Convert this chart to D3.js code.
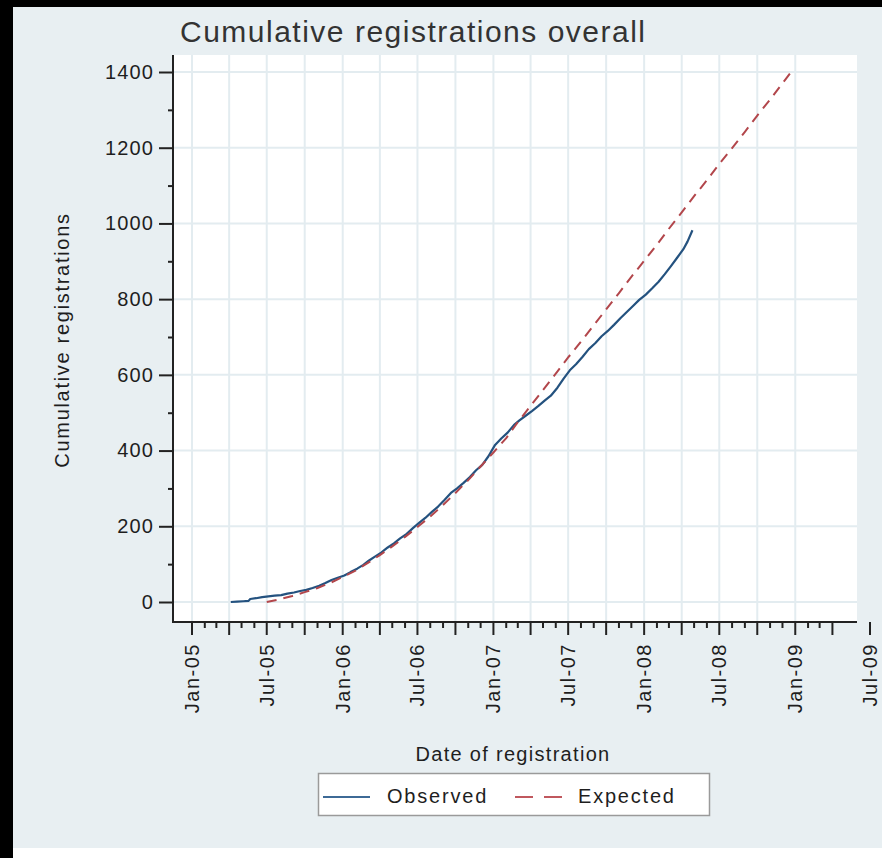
<!DOCTYPE html>
<html><head><meta charset="utf-8">
<script src="https://cdn.jsdelivr.net/npm/d3@7"></script>
<style>
body{margin:0;background:#fff}
svg{display:block}
text{font-family:"Liberation Sans",Arial,Helvetica,sans-serif;fill:#1e1e1e}
</style>
</head><body>
<svg id="chart" width="882" height="858"></svg>
<script>
// ---------------- data ----------------
const titleText = "Cumulative registrations overall";
const yTitle = "Cumulative registrations";
const xTitle = "Date of registration";
const seriesNames = ["Observed", "Expected"];

const observedDates = [
 "2005-04-05","2005-04-20","2005-05-05","2005-05-18","2005-05-22","2005-06-05","2005-06-20","2005-07-05","2005-07-20",
 "2005-08-05","2005-08-20","2005-09-05","2005-09-20","2005-10-05","2005-10-20","2005-11-05","2005-11-20","2005-12-05",
 "2005-12-20","2006-01-05","2006-01-20","2006-02-05","2006-02-20","2006-03-05","2006-03-20","2006-04-05","2006-04-20",
 "2006-05-05","2006-05-20","2006-06-05","2006-06-20","2006-07-05","2006-07-20","2006-08-05","2006-08-20","2006-09-05",
 "2006-09-20","2006-10-05","2006-10-20","2006-11-05","2006-11-20","2006-12-05","2006-12-20","2007-01-05","2007-01-20",
 "2007-02-05","2007-02-20","2007-03-05","2007-03-20","2007-04-05","2007-04-20","2007-05-05","2007-05-20","2007-06-05",
 "2007-06-20","2007-07-05","2007-07-20","2007-08-05","2007-08-20","2007-09-05","2007-09-20","2007-10-05","2007-10-20",
 "2007-11-05","2007-11-20","2007-12-05","2007-12-20","2008-01-05","2008-01-20","2008-02-05","2008-02-20","2008-03-05",
 "2008-03-20","2008-04-05","2008-04-15","2008-04-27"];
const observedValues = [
 0,1,2,3,8,10,13,15,17,
 18,22,25,29,32,37,43,50,58,
 64,70,79,88,98,109,120,131,144,
 155,168,180,195,209,222,238,252,270,
 288,300,314,330,348,362,385,415,432,
 448,468,480,492,505,518,532,545,566,
 590,612,628,648,668,684,702,716,732,
 750,766,782,798,812,828,846,866,886,
 908,932,952,982];

const expectedDates = [
 "2005-07-01","2005-08-01","2005-09-01","2005-10-01","2005-11-01","2005-12-01",
 "2006-01-01","2006-02-01","2006-03-01","2006-04-01","2006-05-01","2006-06-01",
 "2006-07-01","2006-08-01","2006-09-01","2006-10-01","2006-11-01","2006-12-01",
 "2007-01-01","2007-02-01","2007-03-01","2007-04-01","2007-05-01","2007-06-01",
 "2007-07-01","2007-08-01","2007-09-01","2007-10-01","2007-11-01","2007-12-01",
 "2008-01-01","2008-02-01","2008-03-01","2008-04-01","2008-05-01","2008-06-01",
 "2008-07-01","2008-08-01","2008-09-01","2008-10-01","2008-11-01","2008-12-01","2008-12-22"];
const expectedValues = [
 0,7,16,26,37,50,
 66,83,102,124,147,172,
 198,226,256,288,322,358,
 395,433,475,518,560,603,
 646,688,731,773,816,859,
 901,944,986,1029,1072,1114,
 1157,1199,1242,1285,1327,1370,1400];

const yMajorTicks = [0,200,400,600,800,1000,1200,1400];
const yMinorTicks = [100,300,500,700,900,1100,1300];
const xTickLabels = ["Jan-05","Jul-05","Jan-06","Jul-06","Jan-07","Jul-07","Jan-08","Jul-08","Jan-09","Jul-09"];
const xDomain = ["2005-01-01","2009-07-01"];

// ---------------- setup ----------------
const parse = d3.timeParse("%Y-%m-%d");
const W = 882, H = 858;
const plot = {left:173, right:857, top:55, bottom:622};
const colObs = "#24527f", colExp = "#b2464b";
const bg = "#e8eff2", grid = "#e3ecf0";

const svg = d3.select("#chart");
svg.append("rect").attr("width",W).attr("height",H).attr("fill","#fff");
svg.append("rect").attr("x",13).attr("y",7).attr("width",W-13).attr("height",841).attr("fill",bg);
svg.append("rect").attr("x",0).attr("y",0).attr("width",13).attr("height",H).attr("fill","#000");
svg.append("rect").attr("x",0).attr("y",0).attr("width",W).attr("height",7).attr("fill","#000");

const x = d3.scaleTime().domain(xDomain.map(parse)).range([192, 870]);
const y = d3.scaleLinear().domain([0,1400]).range([602, 72]);

// plot area
svg.append("rect").attr("x",plot.left).attr("y",plot.top)
  .attr("width",plot.right-plot.left).attr("height",plot.bottom-plot.top).attr("fill","#fff");

// gridlines
const quarters = d3.timeMonth.every(3).range(parse("2005-01-01"), parse("2009-01-02"));
svg.append("g").selectAll("line").data(quarters).join("line")
  .attr("x1",d=>x(d)).attr("x2",d=>x(d)).attr("y1",plot.top).attr("y2",plot.bottom)
  .attr("stroke",grid).attr("stroke-width",2);
svg.append("g").selectAll("line").data(yMajorTicks).join("line")
  .attr("x1",plot.left).attr("x2",plot.right).attr("y1",d=>y(d)).attr("y2",d=>y(d))
  .attr("stroke",grid).attr("stroke-width",2);

// title
svg.append("text").attr("x",180).attr("y",42).text(titleText)
  .style("font-size","30px").style("letter-spacing","1.5px").style("fill","#333");

// y axis
const yAxisG = svg.append("g").attr("transform",`translate(${plot.left},0)`);
yAxisG.call(d3.axisLeft(y).tickValues(yMajorTicks).tickSize(14).tickPadding(5).tickFormat(d3.format("d")));
yAxisG.append("g").call(d3.axisLeft(y).tickValues(yMinorTicks).tickSize(5).tickFormat(""));
yAxisG.selectAll(".domain").remove();
yAxisG.selectAll("line").attr("stroke","#222").attr("stroke-width",2);
yAxisG.selectAll("text").style("font-size","20px").style("letter-spacing","1.1px").attr("fill","#1e1e1e");
svg.append("line").attr("x1",plot.left).attr("x2",plot.left).attr("y1",plot.top).attr("y2",plot.bottom+1)
  .attr("stroke","#222").attr("stroke-width",2);

// x axis
const months = d3.timeMonth.range(parse("2005-01-01"), parse("2009-04-02"));
const allTicks = months.concat([parse("2009-07-01")]);
const xg = svg.append("g");
xg.selectAll("line").data(allTicks).join("line")
  .attr("x1",d=>x(d)).attr("x2",d=>x(d)).attr("y1",plot.bottom)
  .attr("y2",d=> plot.bottom + (d.getMonth()%3===0 ? 13 : 6))
  .attr("stroke","#222").attr("stroke-width",2);
svg.append("line").attr("x1",plot.left-1).attr("x2",plot.right).attr("y1",plot.bottom).attr("y2",plot.bottom)
  .attr("stroke","#222").attr("stroke-width",2);
const labelDates = xTickLabels.map(l => d3.timeParse("%b-%y")(l));
xg.selectAll("text").data(labelDates).join("text")
  .attr("transform",d=>`translate(${x(d)},643) rotate(-90)`)
  .attr("text-anchor","end").attr("dy","0.35em")
  .style("font-size","20px").style("letter-spacing","1.5px")
  .text((d,i)=>xTickLabels[i]);

// axis titles
svg.append("text").attr("transform","translate(69,340) rotate(-90)").attr("text-anchor","middle")
  .style("font-size","20px").style("letter-spacing","1.7px").text(yTitle);
svg.append("text").attr("x",513).attr("y",761).attr("text-anchor","middle")
  .style("font-size","20px").style("letter-spacing","1.3px").text(xTitle);

// lines
const obs = observedDates.map((d,i)=>({date:parse(d), v:observedValues[i]}));
const exp = expectedDates.map((d,i)=>({date:parse(d), v:expectedValues[i]}));
const line = d3.line().x(d=>x(d.date)).y(d=>y(d.v));
svg.append("path").datum(obs).attr("d",line).attr("fill","none")
  .attr("stroke",colObs).attr("stroke-width",2.2).attr("stroke-linejoin","round");
svg.append("path").datum(exp).attr("d",line).attr("fill","none")
  .attr("stroke",colExp).attr("stroke-width",2).attr("stroke-dasharray","10,7");

// legend
const lg = svg.append("g");
lg.append("rect").attr("x",318.5).attr("y",773.5).attr("width",391).attr("height",42)
  .attr("fill","#fff").attr("stroke","#9a9a9a").attr("stroke-width",1.5);
lg.append("line").attr("x1",323).attr("x2",370).attr("y1",797).attr("y2",797)
  .attr("stroke","#3d6a96").attr("stroke-width",2.2);
lg.append("text").attr("x",387).attr("y",803).style("font-size","20px").style("letter-spacing","1.8px").text(seriesNames[0]);
lg.append("line").attr("x1",515).attr("x2",562).attr("y1",797).attr("y2",797)
  .attr("stroke","#c0585e").attr("stroke-width",2.2).attr("stroke-dasharray","18,11");
lg.append("text").attr("x",578).attr("y",803).style("font-size","20px").style("letter-spacing","1.8px").text(seriesNames[1]);
</script>
</body></html>
